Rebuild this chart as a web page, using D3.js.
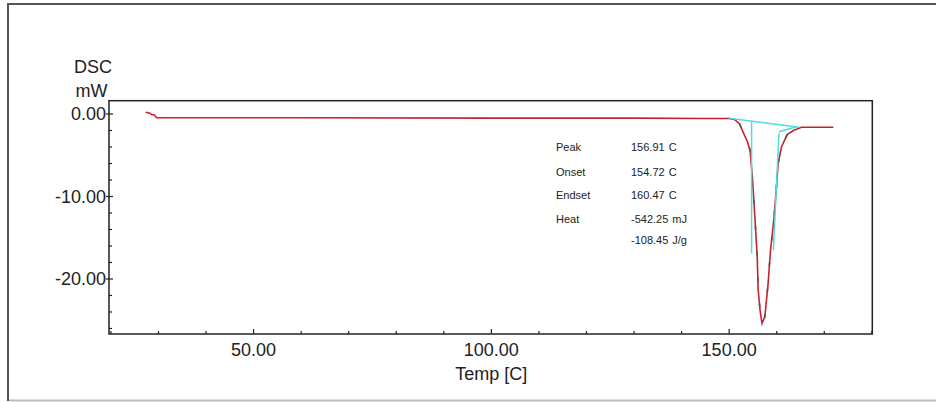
<!DOCTYPE html>
<html>
<head>
<meta charset="utf-8">
<script src="https://cdn.jsdelivr.net/npm/d3@7"></script>
<style>
  html, body { margin: 0; padding: 0; background: #fff; }
  svg { display: block; }
  text { font-family: "Liberation Sans", Arial, sans-serif; fill: #222; }
</style>
</head>
<body>
<svg id="chart" width="936" height="402"></svg>
<script>
// DSC scan: temperature [C] vs heat flow [mW]
const temp = [27.3, 28.2, 28.6, 29.1, 29.6, 60, 100, 130, 145, 150.0, 151.2, 152.2, 153.0, 153.8,
  154.4, 154.9, 155.4, 155.9, 156.1, 156.5, 156.91, 157.5, 158.2, 158.7, 159.4, 159.9, 160.3,
  161.0, 162.2, 163.5, 165.2, 171.9];
const heatFlow = [0.2, 0.1, -0.1, -0.1, -0.45, -0.45, -0.5, -0.5, -0.55, -0.55, -0.7, -1.2, -2.3, -3.3,
  -4.4, -7.8, -12.4, -17.3, -21.3, -23.8, -25.4, -24.6, -20.5, -16.5, -12.8, -9.2, -6.0,
  -4.0, -2.5, -2.0, -1.6, -1.6];

// peak analysis construction lines (temperature, mW)
const baselineT = [150.0, 164.7];
const baselineY = [-0.52, -1.61];
const onsetT = [154.72, 154.72];
const onsetY = [-0.87, -16.9];
const endsetT = [160.47, 159.3];
const endsetY = [-2.34, -16.5];
const tailT = [160.47, 164.2];
const tailY = [-2.15, -1.54];

// results table
const resultLabels = ["Peak", "Onset", "Endset", "Heat", ""];
const resultValues = ["156.91", "154.72", "160.47", "-542.25", "-108.45"];
const resultUnits = ["C", "C", "C", "mJ", "J/g"];

const xTicksMajor = [50, 100, 150];
const yTicksMajor = [0, -10, -20];

// fixed two decimals with a plain hyphen for negatives
const fmt = d => d.toFixed(2);

const svg = d3.select("#chart");

// outer frame
svg.append("line").attr("x1", 8).attr("x2", 8).attr("y1", 3).attr("y2", 401)
  .attr("stroke", "#555").attr("stroke-width", 2);
svg.append("line").attr("x1", 7).attr("x2", 936).attr("y1", 4).attr("y2", 4)
  .attr("stroke", "#555").attr("stroke-width", 2);
svg.append("line").attr("x1", 9).attr("x2", 936).attr("y1", 400.5).attr("y2", 400.5)
  .attr("stroke", "#bbb").attr("stroke-width", 2);

const pL = 109, pR = 872.3, pT = 100.7, pB = 334;
const x = d3.scaleLinear().domain([19.6, 180.1]).range([pL, pR]);
const y = d3.scaleLinear().domain([-26.67, 1.61]).range([pB, pT]);

// plot box
svg.append("rect").attr("x", pL).attr("y", pT)
  .attr("width", pR - pL).attr("height", pB - pT)
  .attr("fill", "none").attr("stroke", "#222").attr("stroke-width", 1.5);

// x axis ticks (inward)
const xMinor = d3.range(20, 181, 10);
svg.append("g").selectAll("line").data(xMinor).join("line")
  .attr("x1", d => x(d)).attr("x2", d => x(d))
  .attr("y1", pB).attr("y2", d => xTicksMajor.includes(d) ? pB - 5 : pB - 3)
  .attr("stroke", "#222").attr("stroke-width", 1.2);
svg.append("g").selectAll("text").data(xTicksMajor).join("text")
  .attr("x", d => x(d)).attr("y", 356)
  .attr("text-anchor", "middle").attr("font-size", 18)
  .text(fmt);
svg.append("text").attr("x", x(100)).attr("y", 380)
  .attr("text-anchor", "middle").attr("font-size", 18).text("Temp [C]");

// y axis ticks (inward)
const yMinor = d3.range(0, -27, -2);
svg.append("g").selectAll("line").data(yMinor).join("line")
  .attr("x1", d => yTicksMajor.includes(d) ? pL - 3 : pL)
  .attr("x2", d => yTicksMajor.includes(d) ? pL + 4 : pL + 3)
  .attr("y1", d => y(d)).attr("y2", d => y(d))
  .attr("stroke", "#222").attr("stroke-width", 1.2);
svg.append("g").selectAll("text").data(yTicksMajor).join("text")
  .attr("x", 106).attr("y", d => y(d)).attr("dy", "0.36em")
  .attr("text-anchor", "end").attr("font-size", 18)
  .text(fmt);
svg.append("text").attr("x", 93).attr("y", 72.7).attr("text-anchor", "middle")
  .attr("font-size", 18).text("DSC");
svg.append("text").attr("x", 91.5).attr("y", 96.7).attr("text-anchor", "middle")
  .attr("font-size", 18).text("mW");

// DSC curve
const pts = temp.map((t, i) => [t, heatFlow[i]]);
const line = d3.line().x(d => x(d[0])).y(d => y(d[1]));
svg.append("path").datum(pts).attr("d", line)
  .attr("fill", "none").attr("stroke", "#c8232b").attr("stroke-width", 1.6);

// integration range overlay, dashed
const segPts = pts.filter(d => d[0] >= 152.2 && d[0] <= 163.5);
svg.append("path").datum(segPts).attr("d", line)
  .attr("fill", "none").attr("stroke", "#555").attr("stroke-width", 1.6)
  .attr("stroke-dasharray", "4 22");

// construction lines
const cyan = "#4fdbe2";
[[baselineT, baselineY], [onsetT, onsetY], [endsetT, endsetY], [tailT, tailY]].forEach(([ts, ys]) => {
  svg.append("path").datum(ts.map((t, i) => [t, ys[i]])).attr("d", line)
    .attr("fill", "none").attr("stroke", cyan).attr("stroke-width", 1.5);
});
// peak marker
svg.append("path").datum([[156.91, -25.4], [156.91, -25.7]]).attr("d", line)
  .attr("fill", "none").attr("stroke", cyan).attr("stroke-width", 1.5);

// results table
const rowY = [151, 175.5, 199, 223, 244];
const table = svg.append("g").attr("font-size", 11);
resultLabels.forEach((lab, i) => {
  if (lab) table.append("text").attr("x", 556).attr("y", rowY[i]).text(lab);
  const t = table.append("text").attr("x", 631).attr("y", rowY[i]);
  t.append("tspan").text(resultValues[i]);
  t.append("tspan").attr("dx", 4).text(resultUnits[i]);
});
</script>
</body>
</html>
